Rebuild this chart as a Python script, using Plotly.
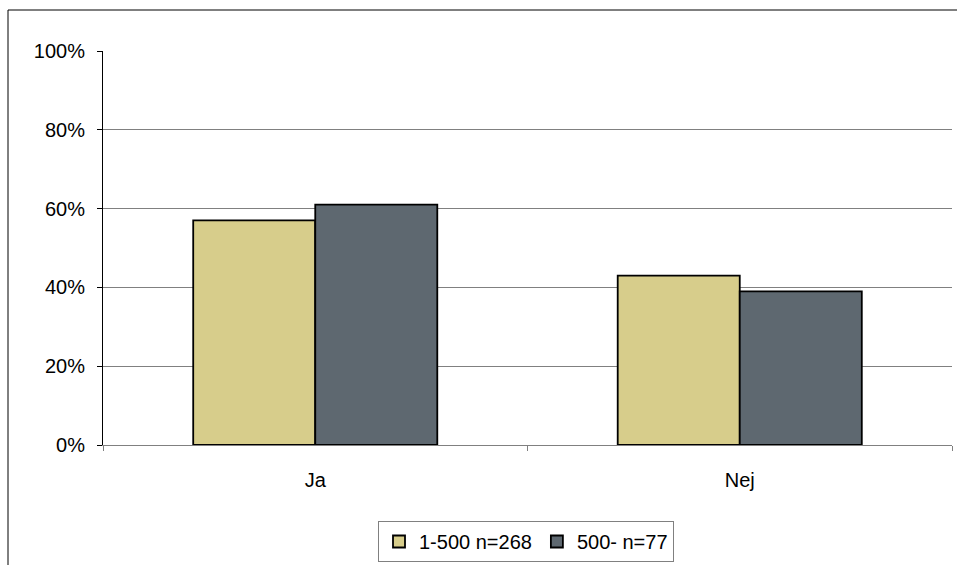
import plotly.graph_objects as go

categories = ["Ja", "Nej"]
series_names = ["1-500 n=268", "500- n=77"]
values_small = [57, 43]
values_large = [61, 39]
y_ticks = [0, 20, 40, 60, 80, 100]
y_tick_labels = ["0%", "20%", "40%", "60%", "80%", "100%"]

colors = ["#D7CD8B", "#5E6870"]

fig = go.Figure()
for name, vals, col in zip(series_names, [values_small, values_large], colors):
    fig.add_trace(go.Bar(
        x=categories, y=vals, name=name,
        marker=dict(color=col, line=dict(color="#000000", width=1.8)),
    ))

W, H = 957, 565
ml, mr, mt, mb = 103, 5, 51, 120
pw = W - ml - mr
ph = H - mt - mb

fig.update_layout(
    width=W, height=H,
    margin=dict(l=ml, r=mr, t=mt, b=mb, autoexpand=False),
    paper_bgcolor="white", plot_bgcolor="white",
    barmode="group", bargap=0.425, bargroupgap=0,
    font=dict(family="Liberation Sans, Arial, sans-serif", size=20, color="#000000"),
    showlegend=True,
    legend=dict(
        orientation="h", x=(526 - ml) / pw, xanchor="center",
        y=(mt + ph - 521) / ph, yanchor="top",
        bordercolor="#808080", borderwidth=1,
        font=dict(size=20), traceorder="normal",
        itemwidth=30,
    ),
    xaxis=dict(
        showline=True, linecolor="#808080", linewidth=1,
        ticks="outside", tickson="boundaries", ticklen=5, tickcolor="#808080",
        ticklabelstandoff=17, showgrid=False, automargin=False,
    ),
    yaxis=dict(
        range=[0, 100], tickvals=y_ticks, ticktext=y_tick_labels,
        showline=True, linecolor="#000000", linewidth=1,
        ticks="outside", ticklen=5, tickcolor="#000000",
        showgrid=True, gridcolor="#808080", gridwidth=1,
        ticklabelstandoff=8, zeroline=False, automargin=False,
    ),
    shapes=[dict(
        type="rect", xref="paper", yref="paper",
        x0=(8 - ml) / pw, x1=(965 - ml) / pw,
        y0=(mt + ph - 575) / ph, y1=(mt + ph - 10) / ph,
        line=dict(color="#000000", width=1), fillcolor="rgba(0,0,0,0)",
        layer="below",
    )],
)

fig.write_html(
    "out.html",
    config={"displayModeBar": False},
    post_script="document.body.style.margin='0';document.body.style.overflow='hidden';",
)
